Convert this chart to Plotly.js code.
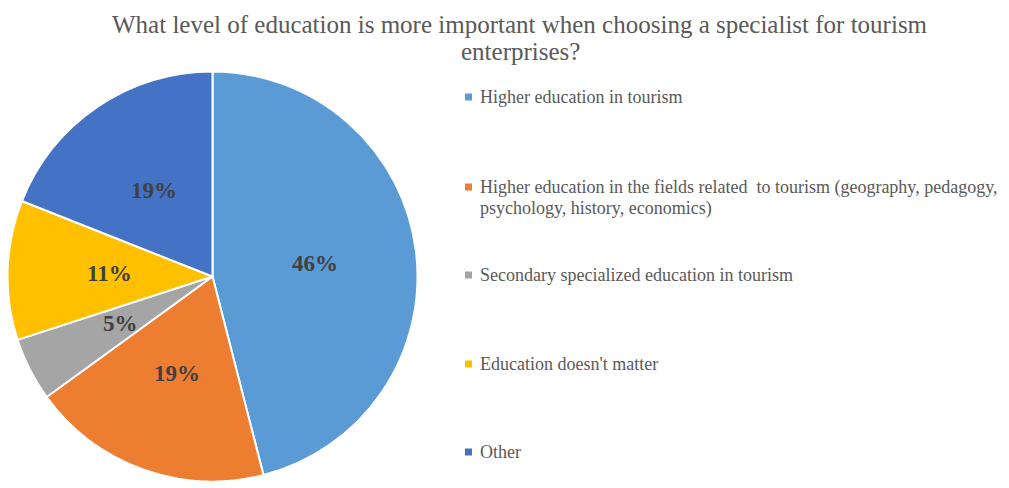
<!DOCTYPE html>
<html>
<head>
<meta charset="utf-8">
<script src="https://cdn.plot.ly/plotly-3.0.1.min.js"></script>
<style>html,body{margin:0;padding:0;background:#fff}#chart{width:1009px;height:488px}</style>
</head>
<body>
<div id="chart"></div>
<script>
const titleText = "What level of education is more important when choosing a specialist for tourism<br>enterprises?";
const labels = [
  "Higher education in tourism",
  "Higher education in the fields related  to tourism (geography, pedagogy,<br>psychology, history, economics)",
  "Secondary specialized education in tourism",
  "Education doesn't matter",
  "Other"
];
const values = [46, 19, 5, 11, 19];
const colors = ['#5B9BD5', '#ED7D31', '#A5A5A5', '#FFC000', '#4472C4'];

const W = 1009, H = 488;
const px = x => x / W;
const py = y => 1 - y / H;
const serif = 'Liberation Serif';

// pie geometry (pixels)
const cx = 212.5, cy = 276.5, r = 205;

// legend layout (pixels): vertical centre of each item's first line
const legendY = [97, 187, 275, 364, 452];
const legendMarkerX = 469, legendTextX = 478;
const legendLineGap = 21;
const titleLineY = [24, 51];

const shapes = [];
const annotations = [];

titleText.split('<br>').forEach((line, k) => {
  annotations.push({
    xref: 'paper', yref: 'paper', x: px(520), y: py(titleLineY[k]),
    xanchor: 'center', yanchor: 'middle', align: 'center',
    text: line, showarrow: false,
    font: {family: serif, size: 25, color: '#595959'}
  });
});

labels.forEach((lab, i) => {
  shapes.push({
    type: 'rect', xref: 'paper', yref: 'paper',
    x0: px(legendMarkerX - 4), x1: px(legendMarkerX + 3),
    y0: py(legendY[i] + 3.5), y1: py(legendY[i] - 3.5),
    fillcolor: colors[i], line: {width: 0}
  });
  lab.split('<br>').forEach((line, k) => {
    annotations.push({
      xref: 'paper', yref: 'paper',
      x: px(legendTextX), y: py(legendY[i] + k * legendLineGap),
      xanchor: 'left', yanchor: 'middle', align: 'left',
      text: line, showarrow: false,
      font: {family: serif, size: 18, color: '#595959'}
    });
  });
});

// data labels placed at the middle angle of each slice, half way out
const total = values.reduce((a, b) => a + b, 0);
let cum = 0;
values.forEach((v, i) => {
  const mid = (cum + v / 2) / total * 2 * Math.PI;
  cum += v;
  const d = 0.505 * r;
  annotations.push({
    xref: 'paper', yref: 'paper',
    x: px(cx + d * Math.sin(mid)), y: py(cy - d * Math.cos(mid)),
    xanchor: 'center', yanchor: 'middle',
    text: '<b>' + v + '%</b>', showarrow: false,
    font: {family: serif, size: 23, color: '#404040'}
  });
});

const data = [{
  type: 'pie',
  labels: labels,
  values: values,
  textinfo: 'none',
  sort: false,
  direction: 'clockwise',
  rotation: 0,
  marker: {colors: colors, line: {color: '#ffffff', width: 2}},
  domain: {x: [px(cx - r), px(cx + r)], y: [py(cy + r), py(cy - r)]},
  showlegend: false,
  hoverinfo: 'label+percent'
}];

const layout = {
  width: W, height: H,
  margin: {l: 0, r: 0, t: 0, b: 0},
  paper_bgcolor: '#ffffff',
  font: {family: serif},
  showlegend: false,
  shapes: shapes,
  annotations: annotations
};

Plotly.newPlot('chart', data, layout, {displayModeBar: false, staticPlot: true});
</script>
</body>
</html>
